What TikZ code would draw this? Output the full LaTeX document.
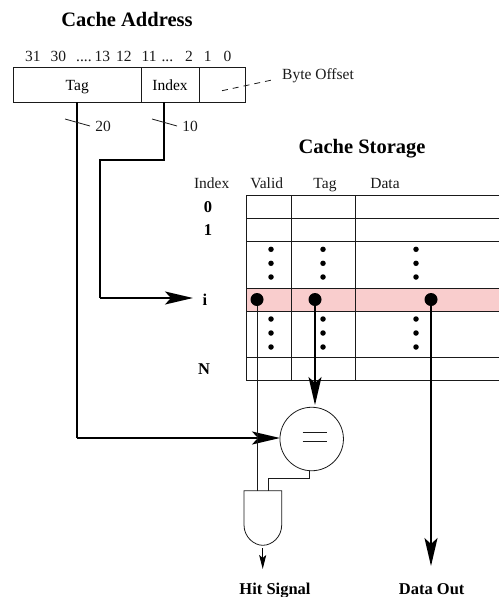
\documentclass[tikz,border=0pt]{standalone}
\usepackage{fontspec}
\setmainfont{Liberation Serif}
\usetikzlibrary{arrows.meta,calc}
\definecolor{hitrow}{HTML}{F9CDCD}
\definecolor{ink}{HTML}{1A1A1A}
\tikzset{
  x=1pt,y=-1pt,
  thinline/.style={draw=ink,line width=0.8pt},
  busline/.style={draw=black,line width=1.9pt},
  field/.style={thinline,rectangle,minimum height=34.5pt,inner sep=0pt,text height=12.5pt,text depth=1.5pt,font=\fontsize{15.5}{16}\selectfont},
  txt/.style={inner sep=0pt,text height=12.5pt,text depth=1.5pt,font=\fontsize{15.5}{16}\selectfont,text=ink},
  bigtitle/.style={inner sep=0pt,text height=15pt,text depth=3pt,font=\fontsize{20.5}{22}\bfseries\selectfont,text=black},
  boldtxt/.style={inner sep=0pt,text height=13pt,text depth=2pt,font=\fontsize{16.5}{18}\bfseries\selectfont,text=black},
  bighead/.style={-{Stealth[length=28pt,width=13pt,inset=6pt]}},
  smallhead/.style={-{Stealth[length=14pt,width=7pt,inset=3pt]}},
  dotsmall/.style={circle,fill=black,inner sep=0pt,minimum size=5.5pt},
  dotbig/.style={circle,fill=black,inner sep=0pt,minimum size=13pt},
}
\begin{document}
\begin{tikzpicture}
\useasboundingbox (0,0) rectangle (499,597);
% titles
\node[bigtitle] (ttaddr) at (127,20) {Cache Address};
\node[bigtitle] (ttstore) at (362,147) {Cache Storage};
\node[txt,anchor=west] (bits) at (25,56) {31\hspace{10pt}30\hspace{10pt}....\hspace{3pt}13\hspace{6pt}12\hspace{10pt}11\hspace{5pt}...\hspace{12pt}2\hspace{11pt}1\hspace{12pt}0};
% address fields
\node[field,minimum width=127.5pt] (tagf) at (77.25,85) {Tag};
\node[field,minimum width=58pt] (idxf) at (170,85) {Index};
\node[field,minimum width=46pt] (offf) at (222,85) {};
\node[txt] (byteoff) at (318,74) {Byte Offset};
\coordinate (offa) at (222,90.7);
\coordinate (offb) at (272,80);
\draw[thinline,dash pattern=on 6pt off 5pt] (offa) -- (offb);
\coordinate (tagout) at (77,102);
\coordinate (idxout) at (164,102);
% storage
\fill[hitrow] (246,288) rectangle (499,311);
\draw[thinline] (499,195) -- (246,195) -- (246,380.7) -- (499,380.7);
\foreach \yy in {218,241.7,288,311,357.7} \draw[thinline] (246,\yy) -- (499,\yy);
\foreach \xx in {291.7,355.7} \draw[thinline] (\xx,195) -- (\xx,380.7);
\node[txt] (hidx) at (211.7,183) {Index};
\node[txt] (hval) at (266.7,183) {Valid};
\node[txt] (htag) at (325,183) {Tag};
\node[txt] (hdat) at (385,183) {Data};
\node[boldtxt] (r0) at (208,206.5) {0};
\node[boldtxt] (r1) at (208,230) {1};
\node[boldtxt] (ri) at (205,299.5) {i};
\node[boldtxt] (rn) at (204,369) {N};
\foreach \xx in {271,323,416} \foreach \yy in {249.3,263.3,277,319,333,347}
  \node[dotsmall] at (\xx,\yy) {};
\node[dotbig] (dv) at (257,299.5) {};
\node[dotbig] (dt) at (315,299.5) {};
\node[dotbig] (dd) at (431,299.5) {};
% comparator and gate
\node[circle,thinline,minimum size=63.5pt,inner sep=0pt] (cmp) at (311.7,439) {};
\draw[thinline] (302.7,432.3) -- (327,432.3) (302.7,441) -- (327,441);
\draw[thinline] (244,490.7) -- (281.7,490.7) -- (281.7,525) .. controls (281.7,537) and (272,545.3) .. (262.8,545.3) .. controls (254,545.3) and (244,537) .. (244,525) -- cycle;
% buses
\coordinate (tagcorner) at (77,438);
\coordinate (cmpwest) at (280,438);
\draw[busline] (tagout) -- (tagcorner);
\draw[busline,bighead] (tagcorner) -- (cmpwest);
\coordinate (idxa) at (164,160);
\coordinate (idxb) at (100,160);
\coordinate (idxc) at (100,298);
\coordinate (idxtip) at (193,298);
\draw[busline] (idxout) -- (idxa) -- (idxb) -- (idxc);
\draw[busline,bighead] (idxc) -- (idxtip);
\draw[busline,line width=1.6pt,bighead] (dt) -- (dt |- 0,405);
\draw[busline,line width=1.6pt,bighead] (dd) -- (dd |- 0,566);
% valid and compare outputs
\draw[thinline] (dv) -- (257,490.7);
\coordinate (cmpout) at (309.3,471);
\draw[thinline] (cmpout) -- (309.3,478.7) -- (268.3,478.7) -- (268.3,490.7);
\coordinate (hita) at (262.7,548);
\coordinate (hitb) at (262.7,569);
\draw[black,line width=0.9pt,smallhead] (hita) -- (hitb);
% bus width ticks
\draw[thinline] (65,119) -- (90,126);
\draw[thinline] (152,119) -- (177,126);
\node[txt] (n20) at (103,125.5) {20};
\node[txt] (n10) at (190,125.5) {10};
\node[boldtxt] (hit) at (275,589) {Hit Signal};
\node[boldtxt] (dout) at (431.7,589) {Data Out};
\end{tikzpicture}
\end{document}
